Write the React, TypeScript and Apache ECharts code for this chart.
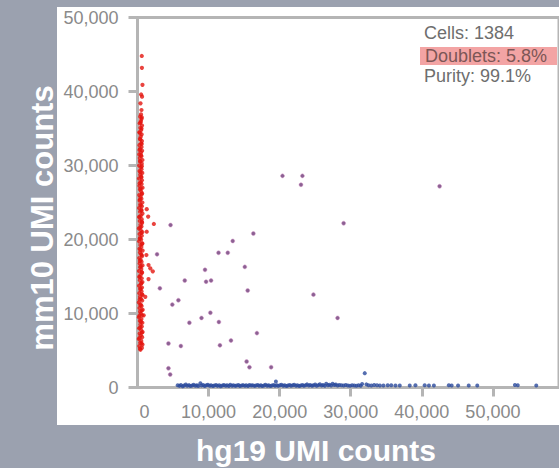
import React, { useEffect, useRef } from "react";
import * as echarts from "echarts";

// Mouse cells (mm10-dominant): [hg19 UMI, mm10 UMI]
const mouseCells: [number, number][] = [
  [420,5100],[610,5350],[250,5600],[700,5800],[380,6050],[530,6300],[180,6550],[650,6800],[450,7050],[300,7300],
  [720,7500],[520,7750],[230,8000],[600,8250],[410,8500],[680,8750],[330,9000],[550,9250],[200,9500],[640,9750],
  [470,10000],[360,10250],[730,10500],[280,10750],[580,11000],[430,11250],[190,11500],[660,11750],[500,12000],[350,12250],
  [710,12500],[260,12750],[560,13000],[400,13250],[620,13500],[220,13750],[480,14000],[690,14250],[340,14500],[590,14750],
  [270,15000],[450,15250],[650,15500],[210,15750],[530,16000],[380,16250],[700,16500],[300,16750],[570,17000],[440,17250],
  [240,17500],[630,17750],[490,18000],[350,18250],[720,18500],[280,18750],[540,19000],[410,19250],[670,19500],[230,19750],
  [510,20000],[370,20250],[600,20500],[290,20750],[680,21000],[450,21250],[200,21500],[560,21750],[420,22000],[650,22250],
  [320,22500],[580,22750],[250,23000],[470,23250],[700,23500],[360,23750],[530,24000],[220,24250],[610,24500],[400,24750],
  [680,25000],[300,25250],[550,25500],[430,25750],[240,26000],[640,26250],[500,26500],[350,26750],[710,27000],[270,27250],
  [580,27500],[440,27750],[620,28000],[210,28250],[520,28500],[380,28750],[670,29000],[290,29250],[560,29500],[460,29750],
  [230,30000],[600,30250],[390,30500],[690,30750],[320,31000],[540,31250],[250,31500],[480,31750],[650,32000],[360,32250],
  [570,32500],[280,32750],[500,33000],[620,33300],[340,33600],[450,33900],[580,34200],[260,34500],[520,34800],[400,35100],
  [630,35400],[310,35700],[470,36000],[560,36300],[380,36600],[490,36900],
  [350,5250],[560,5950],[290,6700],[610,7400],[380,8100],[500,8900],[260,9700],[590,10400],[430,11100],[320,11900],
  [640,12600],[400,13400],[540,14100],[300,14900],[600,15600],[460,16400],[330,17100],[580,17900],[410,18600],[650,19400],
  [310,20100],[520,20900],[390,21600],[620,22400],[280,23100],[560,23900],[430,24600],[340,25400],[590,26100],[460,26900],
  [300,27600],[540,28400],[420,29100],[610,29900],[350,30600],[500,31400],[280,32100],[590,32900],[410,33500],[330,34400],
  [560,35000],[440,35800],[600,36500],
  [560,37500],[420,38400],[640,39300],[510,39600],[700,40900],[620,43200],[600,44800],
  [1300,24100],[1500,23100],[2300,22100],[1300,21050],[1250,17900],[1550,16550],[1800,16100],[2150,15700],
  [1550,14650],[1100,12250],[870,9750]
];

// Human cells (hg19-dominant)
const humanCells: [number, number][] = [
  [5650,300],[5900,220],[6100,350],[6350,180],[6550,280],[6800,400],[7000,240],[7250,320],[7450,190],[7700,270],
  [7900,360],[8150,230],[8350,300],[8550,200],[8850,580],[9000,260],[9250,340],[9450,210],[9700,290],[9900,380],
  [10150,240],[10350,310],[10600,190],[10800,270],[11050,350],[11250,220],[11500,300],[11700,180],[11950,260],[12150,330],
  [12400,240],[12600,290],[12850,200],[13050,370],[13300,250],[13500,310],[13750,220],[13950,280],[14200,340],[14400,190],
  [14650,260],[14850,320],[15100,230],[15300,290],[15550,200],[15750,350],[16000,260],[16200,310],[16450,220],[16650,280],
  [16900,330],[17100,240],[17350,300],[17550,190],[17800,270],[18000,360],[18250,230],[18450,300],[18700,210],[18900,280],
  [19150,340],[19470,810],[19350,250],[19600,310],[19800,220],[20050,290],[20250,360],[20500,240],[20700,300],[20950,200],
  [21150,270],[21400,330],[21600,230],[21850,290],[22050,380],[22300,250],[22500,310],[22750,210],[22950,280],[23200,350],
  [23400,240],[23650,300],[23850,420],[24100,260],[24300,330],[24550,230],[24750,290],[25000,400],[25200,250],[25450,320],
  [25650,450],[25900,280],[26100,350],[26350,240],[26550,500],[26800,300],[27000,380],[27250,260],[27450,520],[27700,330],
  [27900,410],[28150,280],[28400,350],[28700,300],[29000,260],[29300,330],[29600,280],[29900,240],[30200,310],[30500,270],
  [30800,230],[31100,300],[31400,250],[31600,480],[31970,1940],[32200,420],[32500,300],[32900,270],[33300,340],[33700,290],
  [34100,260],[34600,280],[35200,300],[35700,300],[36300,280],[36900,270],[38300,260],[39100,290],[40400,310],[41000,270],
  [41700,260],[43800,290],[44200,270],[45100,280],[46600,260],[47800,270],[53100,330],[53500,290],[56100,280]
];

// Doublets (mixed)
const doublets: [number, number][] = [
  [20400,28600],[23200,28600],[23000,27400],[42500,27200],[4650,21950],[29000,22200],[16300,20800],[13400,19800],
  [11400,18200],[12700,18200],[9500,15900],[15100,16300],[6650,14450],[9650,14300],[10350,14450],[3150,13400],
  [15500,13100],[24750,12550],[5750,11800],[4900,11200],[10250,10100],[9000,9400],[7300,8750],[11450,8850],
  [28150,9400],[16800,7350],[13150,6350],[4350,5950],[6100,5600],[11600,5700],[15350,3500],[15750,2750],
  [18800,2750],[4350,2600],[4600,1750],[2750,18000]
];

const xLabelValues = [0, 10000, 20000, 30000, 40000, 50000];
const xTickValues = [10000, 20000, 30000, 40000, 50000];
const statLines = ["Cells: 1384", "Doublets: 5.8%", "Purity: 99.1%"];

const FONT = "'Liberation Sans', Arial, Helvetica, sans-serif";

export default function App() {
  const ref = useRef<HTMLDivElement>(null);
  useEffect(() => {
    if (!ref.current) return;
    const chart = echarts.init(ref.current, undefined, { renderer: "svg" });
    const axisGray = "#b5b5b5";
    const labelGray = "#8a8a8a";
    const fmt = (v: number) => v.toLocaleString("en-US");
    chart.setOption({
      animation: false,
      backgroundColor: "transparent",
      grid: {
        left: 137.5,
        top: 17.5,
        right: -12,
        bottom: 80.5,
        show: true,
        borderColor: axisGray,
        borderWidth: 3,
        backgroundColor: "transparent",
      },
      xAxis: {
        type: "value",
        min: 0,
        max: 59300,
        splitLine: { show: false },
        axisLine: { show: true, lineStyle: { color: axisGray, width: 3 } },
        axisTick: {
          show: true,
          inside: false,
          length: 9,
          customValues: xTickValues,
          lineStyle: { color: axisGray, width: 3 },
        },
        axisLabel: {
          customValues: xLabelValues,
          formatter: (v: number) => (v === 0 ? "{zero|0}" : fmt(v)),
          color: labelGray,
          fontSize: 18,
          fontFamily: FONT,
          margin: 15,
          rich: {
            zero: { padding: [0, 0, 0, 14], color: labelGray, fontSize: 18, fontFamily: FONT },
          },
        },
      },
      yAxis: {
        type: "value",
        min: 0,
        max: 50000,
        interval: 10000,
        splitLine: { show: false },
        axisLine: { show: true, lineStyle: { color: axisGray, width: 3 } },
        axisTick: { show: true, length: 9, lineStyle: { color: axisGray, width: 3 } },
        axisLabel: {
          formatter: fmt,
          color: labelGray,
          fontSize: 18,
          fontFamily: FONT,
          margin: 19,
        },
      },
      series: [
        {
          type: "scatter",
          data: humanCells,
          symbolSize: 4,
          itemStyle: { color: "#2b4a9c" },
        },
        {
          type: "scatter",
          data: mouseCells,
          symbolSize: 4.2,
          itemStyle: { color: "#e3150f" },
        },
        {
          type: "scatter",
          data: doublets,
          symbolSize: 4,
          itemStyle: { color: "#6e3a78", borderColor: "rgba(215,150,200,0.6)", borderWidth: 1 },
        },
      ],
      graphic: [
        {
          type: "rect",
          shape: { x: 420, y: 47, width: 137, height: 18 },
          style: { fill: "#f3a4a4" },
          z: 10,
        },
        {
          type: "text",
          z: 11,
          style: { text: statLines[0], x: 424, y: 33, textVerticalAlign: "middle", font: `18px ${FONT}`, fill: "#6e6e6e" },
        },
        {
          type: "text",
          z: 11,
          style: { text: statLines[1], x: 425, y: 56, textVerticalAlign: "middle", font: `18px ${FONT}`, fill: "#7c5656" },
        },
        {
          type: "text",
          z: 11,
          style: { text: statLines[2], x: 424, y: 76, textVerticalAlign: "middle", font: `18px ${FONT}`, fill: "#6e6e6e" },
        },
        {
          type: "text",
          z: 11,
          x: 316,
          y: 450,
          style: { text: "hg19 UMI counts", x: 0, y: 0, textAlign: "center", textVerticalAlign: "middle", font: `bold 30px ${FONT}`, fill: "#ffffff" },
        },
        {
          type: "text",
          z: 11,
          x: 42,
          y: 218,
          rotation: Math.PI / 2,
          style: { text: "mm10 UMI counts", x: 0, y: 0, textAlign: "center", textVerticalAlign: "middle", font: `bold 31px ${FONT}`, fill: "#ffffff" },
        },
      ],
    });
    return () => chart.dispose();
  }, []);

  return (
    <div style={{ position: "fixed", left: 0, top: 0, width: 559, height: 468, background: "#9ba1af", overflow: "hidden" }}>
      <div style={{ position: "absolute", left: 57, top: 7, width: 510, height: 418, background: "#ffffff" }} />
      <div ref={ref} style={{ position: "absolute", left: 0, top: 0, width: 559, height: 468 }} />
    </div>
  );
}
